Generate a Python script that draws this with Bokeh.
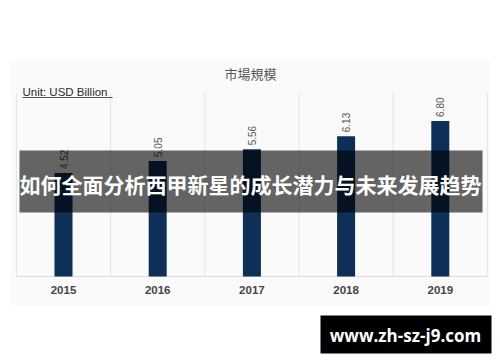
import math
from bokeh.plotting import figure
from bokeh.models import Range1d, ColumnDataSource
from bokeh.core.properties import value
from bokeh.embed import file_html
from bokeh.resources import INLINE

# ---- data ----
years = ["2015", "2016", "2017", "2018", "2019"]
market_size = [4.52, 5.05, 5.56, 6.13, 6.80]
value_labels = ["4.52", "5.05", "5.56", "6.13", "6.80"]
chart_title = "市場規模"
unit_label = "Unit: USD Billion"
banner_text = "如何全面分析西甲新星的成长潜力与未来发展趋势"
watermark_text = "www.zh-sz-j9.com"
y_max = 8

# ---- layout helpers (pixel -> data) ----
W, H = 500, 362
CAT_PX = 94.2      # pixels per category
CAT0_PX = 63.0     # pixel x of first category centre
BASE_PX = 276.0    # pixel y of value 0
UNIT_PX = 183.0 / y_max


def dx(px):
    return (px - CAT0_PX) / CAT_PX


def dy(py):
    return (BASE_PX - py) / UNIT_PX


p = figure(width=W, height=H,
           x_range=Range1d(dx(0), dx(W)), y_range=Range1d(dy(H), dy(0)),
           output_backend="svg", toolbar_location=None,
           x_axis_location=None, y_axis_location=None, min_border=0)
p.outline_line_color = None
p.grid.visible = False
p.background_fill_color = "white"
p.border_fill_color = "white"

idx = list(range(len(years)))

# card background
p.quad(left=dx(10), right=dx(490), bottom=dy(305), top=dy(60),
       fill_color="#fafafa", line_color=None)

# vertical category separators
bounds = [i - 0.5 for i in range(len(years) + 1)]
p.segment(x0=bounds, x1=bounds, y0=[0] * len(bounds), y1=[y_max] * len(bounds),
          line_color="#e3e3e3", line_width=1)
# baseline
p.segment(x0=[-0.5], x1=[len(years) - 0.5], y0=[0], y1=[0],
          line_color="#dcdcdc", line_width=1)

# bars
src = ColumnDataSource(dict(x=idx, top=market_size, lab=value_labels, year=years,
                            ly=[v + 4 / UNIT_PX for v in market_size]))
p.vbar(x="x", top="top", bottom=0, width=18 / CAT_PX, source=src,
       fill_color="#0e2f57", line_color=None)

# value labels (rotated)
p.text(x="x", y="ly", text="lab", source=src, angle=math.pi / 2,
       text_align="left", text_baseline="middle",
       text_font=value("Liberation Sans"), text_font_size="10px",
       text_color="#555555")

# year labels
p.text(x="x", y=dy(289), text="year", source=src,
       text_align="center", text_baseline="middle",
       text_font=value("Liberation Sans"), text_font_size="11.5px",
       text_font_style="bold", text_color="#444444")

# title
p.text(x=[dx(250)], y=[dy(73)], text=[chart_title],
       text_align="center", text_baseline="middle",
       text_font=value("Noto Sans CJK TC"), text_font_size="13px",
       text_color="#555555")

# unit label + underline
p.text(x=[dx(22)], y=[dy(91)], text=[unit_label],
       text_align="left", text_baseline="middle",
       text_font=value("Liberation Sans"), text_font_size="11.5px",
       text_color="#2a2a2a")
p.segment(x0=[dx(22)], x1=[dx(112)], y0=[dy(97)], y1=[dy(97)],
          line_color="#555555", line_width=1.2)

# overlay banner
p.quad(left=dx(19), right=dx(482), bottom=dy(212), top=dy(150),
       fill_color="black", fill_alpha=0.6, line_color=None)
p.text(x=[dx(250)], y=[dy(183.5)], text=[banner_text],
       text_align="center", text_baseline="middle",
       text_font=value("Noto Sans CJK SC"), text_font_size="21px",
       text_font_style="bold", text_color="white")

# watermark
p.quad(left=dx(320), right=dx(491), bottom=dy(353), top=dy(315),
       fill_color="black", line_color=None)
p.text(x=[dx(405)], y=[dy(335)], text=[watermark_text],
       text_align="center", text_baseline="middle",
       text_font=value("Open Sans"), text_font_size="17px",
       text_font_style="bold", text_color="white")

open("out.html", "w").write(file_html(p, INLINE))
